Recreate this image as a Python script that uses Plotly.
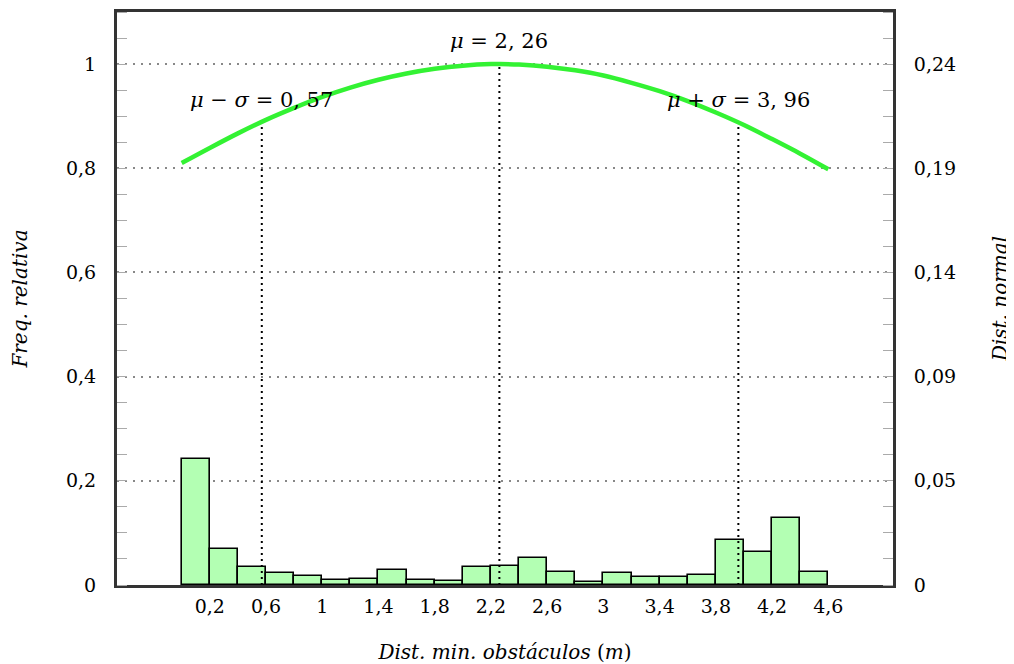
import plotly.graph_objects as go

# ---- data ----
bin_left = [0.0, 0.2, 0.4, 0.6, 0.8, 1.0, 1.2, 1.4, 1.6, 1.8, 2.0, 2.2,
            2.4, 2.6, 2.8, 3.0, 3.2, 3.4, 3.6, 3.8, 4.0, 4.2, 4.4]
freq_rel = [0.241, 0.0685, 0.035, 0.023, 0.0167, 0.0096, 0.011, 0.028,
            0.0102, 0.0083, 0.0345, 0.037, 0.0525, 0.0256, 0.0064, 0.023,
            0.0154, 0.0147, 0.0186, 0.0857, 0.0627, 0.129, 0.025]
bin_width = 0.2

curve_x = [0.0, 0.2, 0.4, 0.6, 0.8, 1.0, 1.2, 1.4, 1.6, 1.8, 2.0, 2.2, 2.26,
           2.4, 2.6, 2.8, 3.0, 3.2, 3.4, 3.6, 3.8, 4.0, 4.2, 4.4, 4.6]
curve_y = [0.810, 0.839, 0.867, 0.893, 0.916, 0.937, 0.955, 0.970, 0.982,
           0.991, 0.997, 1.000, 1.000, 0.999, 0.995, 0.988, 0.978, 0.964,
           0.948, 0.929, 0.907, 0.883, 0.856, 0.828, 0.798]

mu = 2.26
mu_minus_sigma = 0.57
mu_plus_sigma = 3.96
marker_x = [mu_minus_sigma, mu, mu_plus_sigma]
marker_top = [0.889, 1.000, 0.888]

x_tickvals = [0.2, 0.6, 1.0, 1.4, 1.8, 2.2, 2.6, 3.0, 3.4, 3.8, 4.2, 4.6]
x_ticktext = ["0,2", "0,6", "1", "1,4", "1,8", "2,2", "2,6", "3", "3,4", "3,8", "4,2", "4,6"]
y_tickvals = [0, 0.2, 0.4, 0.6, 0.8, 1.0]
y_ticktext = ["0", "0,2", "0,4", "0,6", "0,8", "1"]
y2_ticktext = ["0", "0,05", "0,09", "0,14", "0,19", "0,24"]

FONT = "DejaVu Serif"
AX = "#333333"
TICKSIZE = 19

fig = go.Figure()

# histogram bars
fig.add_trace(go.Bar(
    x=[b + bin_width / 2 for b in bin_left], y=freq_rel, width=bin_width,
    marker=dict(color="#b3ffb3", line=dict(color="black", width=1.6)),
    showlegend=False, hoverinfo="skip"))

# vertical dotted markers
for xv, top in zip(marker_x, marker_top):
    fig.add_trace(go.Scatter(
        x=[xv, xv], y=[0, top], mode="lines",
        line=dict(color="black", width=2, dash="2px,4px"),
        showlegend=False, hoverinfo="skip"))

# normal curve
fig.add_trace(go.Scatter(
    x=curve_x, y=curve_y, mode="lines", yaxis="y2",
    line=dict(color="#33f233", width=4.5, shape="spline"),
    showlegend=False, hoverinfo="skip"))

annot_font = dict(family=FONT, size=21, color="black")
fig.add_annotation(x=mu, y=1.045, text="<i>μ</i> = 2, 26", showarrow=False,
                   font=annot_font, xanchor="center", yanchor="middle")
fig.add_annotation(x=mu_minus_sigma, y=0.932, text="<i>μ</i> − <i>σ</i> = 0, 57",
                   showarrow=False, font=annot_font, xanchor="center", yanchor="middle")
fig.add_annotation(x=mu_plus_sigma, y=0.932, text="<i>μ</i> + <i>σ</i> = 3, 96",
                   showarrow=False, font=annot_font, xanchor="center", yanchor="middle")

minor_ticks = dict(tickmode="linear", tick0=0, dtick=0.05, ticks="inside",
                   ticklen=10, tickcolor="#aaaaaa", tickwidth=1.3, showgrid=False)

fig.update_layout(
    width=1006, height=656,
    margin=dict(l=109, r=121, t=4, b=79, autoexpand=False),
    plot_bgcolor="white", paper_bgcolor="white",
    bargap=0,
    font=dict(family=FONT, size=19, color="black"),
    xaxis=dict(
        range=[-0.46, 5.06], tickmode="array", tickvals=x_tickvals, ticktext=x_ticktext,
        ticks="", showgrid=False, zeroline=False, automargin=False,
        showline=True, linecolor=AX, linewidth=3, mirror=True,
        tickfont=dict(family=FONT, size=TICKSIZE), ticklabelstandoff=2,
        title=dict(text="<i>Dist. min. obstáculos</i> (<i>m</i>)",
                   font=dict(family=FONT, size=20), standoff=31),
    ),
    yaxis=dict(
        range=[0, 1.1], tickmode="array", tickvals=y_tickvals, ticktext=y_ticktext,
        ticks="", showgrid=True, gridcolor="#888888", griddash="2px,6px", gridwidth=2,
        zeroline=False, showline=True, linecolor=AX, linewidth=3, automargin=False,
        minor=minor_ticks,
        tickfont=dict(family=FONT, size=TICKSIZE), ticklabelstandoff=14,
        title=dict(text="<i>Freq. relativa</i>", font=dict(family=FONT, size=20), standoff=35),
    ),
    yaxis2=dict(
        range=[0, 1.1], overlaying="y", side="right",
        tickmode="array", tickvals=y_tickvals, ticktext=y2_ticktext,
        ticks="", showgrid=False, zeroline=False, automargin=False,
        showline=True, linecolor=AX, linewidth=3,
        minor=minor_ticks,
        tickfont=dict(family=FONT, size=TICKSIZE), ticklabelstandoff=14,
        title=dict(text="<i>Dist. normal</i>", font=dict(family=FONT, size=20), standoff=38),
    ),
)

fig.write_html("out.html")
